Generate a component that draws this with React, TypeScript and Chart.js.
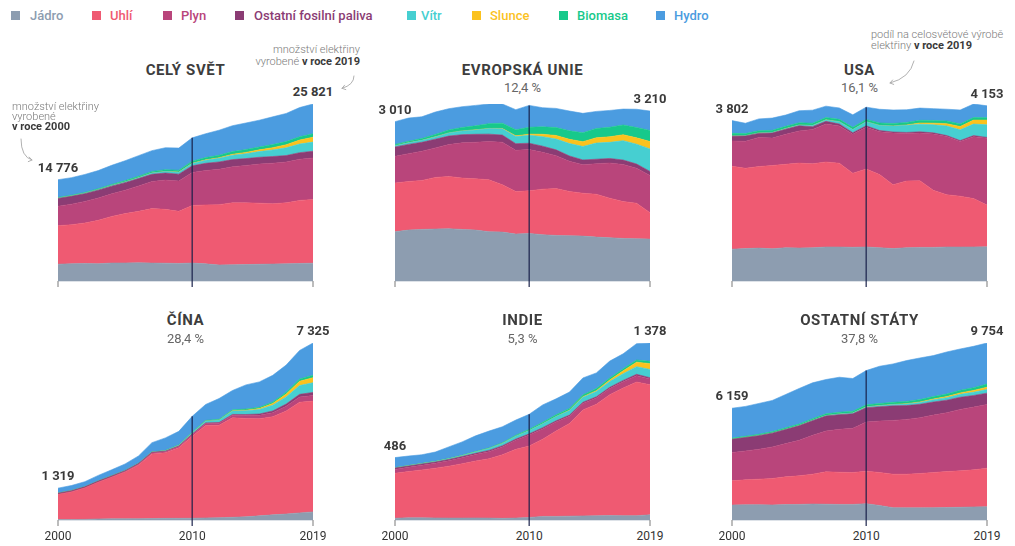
import React, { useEffect, useRef } from "react";
import { Chart, registerables } from "chart.js";

Chart.register(...registerables);

// ---------- data (TWh) ----------
const YEARS = ["2000","2001","2002","2003","2004","2005","2006","2007","2008","2009","2010","2011","2012","2013","2014","2015","2016","2017","2018","2019"];
const SOURCES = ["Jádro", "Uhlí", "Plyn", "Ostatní fosilní paliva", "Vítr", "Slunce", "Biomasa", "Hydro"];
const COLORS = ["#8d9db0", "#ef5a72", "#b9457b", "#8b3c74", "#46cfd1", "#fbc21e", "#17c98b", "#4b9ce0"];

const WORLD_JADRO = [2450,2520,2560,2520,2620,2630,2660,2610,2600,2560,2620,2500,2340,2360,2400,2440,2470,2500,2560,2600];
const WORLD_UHLI = [5620,5690,5900,6330,6800,7200,7500,7950,7850,7600,8400,8600,8800,9050,9000,8920,8800,8900,9200,9300];
const WORLD_PLYN = [2850,3000,3150,3250,3300,3420,3700,3950,4280,4430,4800,5020,5150,5260,5460,5700,5920,5950,6000,6050];
const WORLD_OSTATNI = [1130,1140,1130,1150,1120,1100,1080,1060,1020,1000,980,1050,1080,1040,1000,990,970,950,960,980];
const WORLD_VITR = [30,40,50,60,80,100,130,170,220,275,340,440,520,640,710,830,960,1130,1260,1330];
const WORLD_SLUNCE = [1,2,2,3,4,4,6,8,12,20,32,63,97,135,190,250,330,440,580,720];
const WORLD_BIOMASA = [110,120,130,150,170,190,210,240,260,280,310,330,360,390,410,430,450,470,490,500];
const WORLD_HYDRO = [2585,2560,2620,2650,2780,2900,3000,3030,3200,3230,3400,3480,3650,3780,3880,3900,4050,4100,4250,4341];

const EU_JADRO = [931,962,975,981,988,975,962,931,924,886,899,874,861,855,848,829,817,804,798,791];
const EU_UHLI = [918,918,924,975,988,969,969,981,893,804,804,861,886,836,810,810,747,696,671,500];
const EU_PLYN = [506,525,551,557,601,665,690,722,804,779,779,696,620,570,538,576,665,700,660,703];
const EU_OSTATNI = [177,175,170,165,160,155,150,140,135,125,120,115,110,100,90,85,85,85,80,76];
const EU_VITR = [22,30,36,44,58,70,82,104,118,133,150,180,205,235,255,305,305,365,375,424];
const EU_SLUNCE = [0,0,0,1,1,1,2,4,7,14,22,45,67,80,90,100,105,112,120,140];
const EU_BIOMASA = [25,30,35,45,55,65,75,90,100,115,130,140,150,160,170,175,180,185,195,209];
const EU_HYDRO = [431,437,411,423,403,392,387,371,362,380,413,362,361,374,365,323,318,300,345,367];

const USA_JADRO = [754,769,780,764,789,782,787,806,806,799,807,790,769,789,797,797,806,805,807,809];
const USA_UHLI = [1966,1904,1933,1974,1978,2013,1991,2016,1986,1756,1847,1733,1514,1581,1582,1352,1239,1206,1146,990];
const USA_PLYN = [601,639,691,650,710,761,816,897,883,921,988,1014,1226,1125,1127,1335,1379,1297,1469,1586];
const USA_OSTATNI = [111,125,95,119,121,122,64,66,46,39,37,30,23,27,30,28,24,21,25,19];
const USA_VITR = [6,7,10,11,14,18,27,34,55,74,95,120,141,168,182,191,227,254,273,300];
const USA_SLUNCE = [1,1,1,1,1,1,1,1,1,1,1,2,4,9,28,39,55,78,94,110];
const USA_BIOMASA = [61,50,53,53,53,54,54,55,55,54,56,57,57,60,63,64,63,63,62,58];
const USA_HYDRO = [302,245,280,290,268,285,310,270,270,295,290,325,320,300,290,280,280,330,320,281];

const CINA_JADRO = [17,17,25,43,50,53,55,62,68,70,74,86,97,112,133,171,213,248,294,335];
const CINA_UHLI = [1040,1144,1300,1519,1720,1930,2220,2674,2710,2915,3395,3825,3820,4117,4068,4020,4060,4260,4580,4585];
const CINA_PLYN = [6,7,8,9,10,20,30,40,47,55,70,85,90,105,120,140,170,200,215,230];
const CINA_OSTATNI = [47,45,40,42,45,40,35,30,25,20,20,20,25,35,45,55,70,90,110,130];
const CINA_VITR = [1,1,1,1,1,2,4,6,13,27,45,70,96,141,156,186,241,295,366,400];
const CINA_SLUNCE = [0,0,0,0,0,0,0,0,0,0,1,3,4,8,24,40,67,118,178,210];
const CINA_BIOMASA = [2,2,2,2,2,5,7,9,15,21,25,32,35,42,46,53,65,80,94,100];
const CINA_HYDRO = [206,210,210,230,250,270,300,380,520,560,660,660,860,800,1000,1050,1100,1120,1180,1335];

const INDIE_JADRO = [14,17,17,16,15,15,16,15,13,15,20,28,28,30,32,33,35,34,34,40];
const INDIE_UHLI = [350,360,373,387,404,423,443,462,495,535,556,601,664,722,825,868,940,993,1040,1013];
const INDIE_PLYN = [30,33,36,38,42,46,50,55,60,70,85,80,70,55,50,48,48,50,50,45];
const INDIE_OSTATNI = [10,10,10,10,10,10,10,10,10,10,10,10,10,10,10,10,10,10,10,10];
const INDIE_VITR = [2,3,3,4,5,7,10,14,18,22,25,30,33,35,38,41,45,52,60,64];
const INDIE_SLUNCE = [0,0,0,0,0,0,0,0,0,0,0,0,1,3,5,7,12,22,35,45];
const INDIE_BIOMASA = [1,1,2,2,3,3,4,5,6,8,10,12,13,14,15,16,16,16,17,18];
const INDIE_HYDRO = [79,74,67,72,90,104,122,131,124,118,117,135,124,127,131,122,131,117,127,143];

const OSTATNI_JADRO = [824,840,845,830,850,860,880,870,860,860,900,800,680,670,670,680,690,700,720,732];
const OSTATNI_UHLI = [1335,1374,1406,1458,1529,1574,1645,1784,1775,1757,1790,1817,1845,1855,1892,1937,1982,2008,2043,2123];
const OSTATNI_PLYN = [1556,1592,1647,1739,1830,1958,2141,2251,2361,2434,2708,2837,2965,3020,3074,3166,3239,3386,3459,3514];
const OSTATNI_OSTATNI = [732,740,750,760,780,800,810,824,810,800,787,790,800,760,740,720,690,670,640,622];
const OSTATNI_VITR = [5,6,8,10,12,15,20,25,33,40,48,58,70,85,100,120,140,160,180,200];
const OSTATNI_SLUNCE = [0,0,0,0,0,0,0,0,1,1,2,5,10,20,30,45,60,80,100,128];
const OSTATNI_BIOMASA = [60,65,70,75,80,85,90,95,100,105,110,115,120,125,130,135,140,145,150,170];
const OSTATNI_HYDRO = [1647,1642,1697,1716,1836,1955,1972,1892,1929,1799,1890,2051,2111,2249,2294,2256,2319,2276,2279,2265];

const REGION_NAMES = ["CELÝ SVĚT", "EVROPSKÁ UNIE", "USA", "ČÍNA", "INDIE", "OSTATNÍ STÁTY"];
const SHARE_LABELS = ["", "12,4 %", "16,1 %", "28,4 %", "5,3 %", "37,8 %"];
const START_LABELS = ["14 776", "3 010", "3 802", "1 319", "486", "6 159"];
const END_LABELS = ["25 821", "3 210", "4 153", "7 325", "1 378", "9 754"];
const AXIS_YEARS = ["2000", "2010", "2019"];

const PANEL_SERIES = [
  [WORLD_JADRO, WORLD_UHLI, WORLD_PLYN, WORLD_OSTATNI, WORLD_VITR, WORLD_SLUNCE, WORLD_BIOMASA, WORLD_HYDRO],
  [EU_JADRO, EU_UHLI, EU_PLYN, EU_OSTATNI, EU_VITR, EU_SLUNCE, EU_BIOMASA, EU_HYDRO],
  [USA_JADRO, USA_UHLI, USA_PLYN, USA_OSTATNI, USA_VITR, USA_SLUNCE, USA_BIOMASA, USA_HYDRO],
  [CINA_JADRO, CINA_UHLI, CINA_PLYN, CINA_OSTATNI, CINA_VITR, CINA_SLUNCE, CINA_BIOMASA, CINA_HYDRO],
  [INDIE_JADRO, INDIE_UHLI, INDIE_PLYN, INDIE_OSTATNI, INDIE_VITR, INDIE_SLUNCE, INDIE_BIOMASA, INDIE_HYDRO],
  [OSTATNI_JADRO, OSTATNI_UHLI, OSTATNI_PLYN, OSTATNI_OSTATNI, OSTATNI_VITR, OSTATNI_SLUNCE, OSTATNI_BIOMASA, OSTATNI_HYDRO],
];

// ---------- layout ----------
const COL_LEFT = [58, 395, 732];
const ROW_TOP = [104, 343];
const PLOT_W = 255;
const PLOT_H = 177;
const PAD_X = 2;
const PAD_BOTTOM = 9;
const FONT = "Roboto, 'Noto Sans', sans-serif";

const LEGEND_SQ_X = [11, 92, 163, 235, 407, 472, 559, 656];
const LEGEND_TXT_X = [30, 110, 181, 254, 421, 490, 577, 674];

const totalsOf = (series: number[][]) =>
  YEARS.map((_, i) => series.reduce((s, arr) => s + arr[i], 0));

const axisMarks = {
  id: "axisMarks",
  afterDatasetsDraw(chart: any) {
    const { ctx, scales } = chart;
    const x = scales.x;
    const y = scales.y;
    const y0 = y.getPixelForValue(0);
    const n = YEARS.length;
    const totals = YEARS.map((_, i) =>
      chart.data.datasets.reduce((s: number, d: any) => s + d.data[i], 0)
    );
    ctx.save();
    // baseline
    ctx.strokeStyle = "#dde2e8";
    ctx.lineWidth = 1;
    ctx.beginPath();
    ctx.moveTo(x.getPixelForValue(0), y0 + 0.5);
    ctx.lineTo(x.getPixelForValue(n - 1), y0 + 0.5);
    ctx.stroke();
    // end ticks
    ctx.strokeStyle = "#8f8f8f";
    ctx.lineWidth = 1.2;
    [0, n - 1].forEach((i) => {
      const px = x.getPixelForValue(i);
      ctx.beginPath();
      ctx.moveTo(px, y0);
      ctx.lineTo(px, y0 + 6);
      ctx.stroke();
    });
    // 2010 marker line
    const i10 = YEARS.indexOf("2010");
    const p10 = x.getPixelForValue(i10);
    ctx.strokeStyle = "rgba(22,30,72,0.78)";
    ctx.lineWidth = 1.5;
    ctx.beginPath();
    ctx.moveTo(p10, y.getPixelForValue(totals[i10]));
    ctx.lineTo(p10, y0 + 6);
    ctx.stroke();
    ctx.restore();
  },
};

function Panel({ series, left, top, max }: { series: number[][]; left: number; top: number; max: number }) {
  const ref = useRef<HTMLCanvasElement>(null);
  useEffect(() => {
    if (!ref.current) return;
    const chart = new Chart(ref.current, {
      type: "line",
      data: {
        labels: YEARS,
        datasets: series.map((vals, i) => ({
          label: SOURCES[i],
          data: vals,
          backgroundColor: COLORS[i],
          borderColor: COLORS[i],
          borderWidth: 0.6,
          pointRadius: 0,
          tension: 0,
          fill: i === 0 ? "origin" : "-1",
        })),
      },
      options: {
        responsive: false,
        animation: false,
        devicePixelRatio: 1,
        events: [],
        layout: { padding: { left: PAD_X, right: PAD_X, top: 0, bottom: PAD_BOTTOM } },
        plugins: { legend: { display: false }, tooltip: { enabled: false } },
        scales: {
          x: { display: false, offset: false },
          y: { display: false, stacked: true, min: 0, max },
        },
      },
      plugins: [axisMarks],
    } as any);
    return () => chart.destroy();
  }, []);
  return (
    <canvas
      ref={ref}
      width={PLOT_W + 2 * PAD_X}
      height={PLOT_H + PAD_BOTTOM}
      style={{ position: "absolute", left: left - PAD_X, top }}
    />
  );
}

function T({ x, y, children, style, align = "center" }: any) {
  const tr =
    align === "center" ? "translate(-50%,-50%)" : align === "right" ? "translate(-100%,-50%)" : "translate(0,-50%)";
  return (
    <div
      style={{
        position: "absolute",
        left: x,
        top: y,
        transform: tr,
        whiteSpace: "nowrap",
        lineHeight: 1,
        ...style,
      }}
    >
      {children}
    </div>
  );
}

export default function App() {
  const panels = PANEL_SERIES.map((series, k) => {
    const totals = totalsOf(series);
    const max = Math.max(...totals);
    const col = k % 3;
    const row = Math.floor(k / 3);
    return { series, totals, max, left: COL_LEFT[col], top: ROW_TOP[row], row, k };
  });

  const valueStyle = { fontSize: 13, fontWeight: 700, color: "#3a3a3a" };
  const titleStyle = { fontSize: 15, fontWeight: 700, color: "#3d3d3d", letterSpacing: "0.6px" };
  const shareStyle = { fontSize: 13, fontWeight: 400, color: "#666" };
  const noteStyle = { fontSize: 11, fontWeight: 300, color: "#7a7a7a" };
  const noteBold = { fontWeight: 700, color: "#3a3a3a" };

  return (
    <div
      style={{
        position: "fixed",
        left: 0,
        top: 0,
        width: 1015,
        height: 546,
        background: "#ffffff",
        fontFamily: FONT,
        overflow: "hidden",
      }}
    >
      {/* legend */}
      {SOURCES.map((s, i) => (
        <React.Fragment key={s}>
          <div
            style={{
              position: "absolute",
              left: LEGEND_SQ_X[i],
              top: 10.5,
              width: 9,
              height: 9,
              background: COLORS[i],
            }}
          />
          <T x={LEGEND_TXT_X[i]} y={15} align="left" style={{ fontSize: 13, fontWeight: 500, color: COLORS[i] }}>
            {s}
          </T>
        </React.Fragment>
      ))}

      {panels.map((p) => (
        <Panel key={p.k} series={p.series} left={p.left} top={p.top} max={p.max} />
      ))}

      {panels.map((p) => {
        const n = YEARS.length;
        const yOf = (v: number) => p.top + (1 - v / p.max) * PLOT_H;
        const cx = p.left + PLOT_W / 2;
        const titleY = p.row === 0 ? 69.5 : 319.5;
        const shareY = p.row === 0 ? 87 : 337.5;
        return (
          <React.Fragment key={"t" + p.k}>
            <T x={cx} y={titleY} style={titleStyle}>{REGION_NAMES[p.k]}</T>
            {SHARE_LABELS[p.k] && <T x={cx} y={shareY} style={shareStyle}>{SHARE_LABELS[p.k]}</T>}
            <T x={p.left} y={yOf(p.totals[0]) - 13} style={valueStyle}>{START_LABELS[p.k]}</T>
            <T x={p.left + PLOT_W} y={yOf(p.totals[n - 1]) - 13} style={valueStyle}>{END_LABELS[p.k]}</T>
            {p.row === 1 &&
              AXIS_YEARS.map((yr) => (
                <T
                  key={yr}
                  x={p.left + (PLOT_W * YEARS.indexOf(yr)) / (n - 1)}
                  y={535.5}
                  style={{ fontSize: 12, color: "#333" }}
                >
                  {yr}
                </T>
              ))}
          </React.Fragment>
        );
      })}

      {/* annotations */}
      <T x={12} y={105.5} align="left" style={noteStyle}>množství elektřiny</T>
      <T x={12} y={115.5} align="left" style={noteStyle}>vyrobené</T>
      <T x={12} y={125.5} align="left" style={{ ...noteStyle, ...noteBold }}>v roce 2000</T>

      <T x={360} y={49} align="right" style={noteStyle}>množství elektřiny</T>
      <T x={360} y={61} align="right" style={noteStyle}>
        vyrobené <span style={noteBold}>v roce 2019</span>
      </T>

      <T x={871} y={33.5} align="left" style={noteStyle}>podíl na celosvětové výrobě</T>
      <T x={871} y={44.5} align="left" style={noteStyle}>
        elektřiny <span style={noteBold}>v roce 2019</span>
      </T>

      <svg
        width={1015}
        height={546}
        style={{ position: "absolute", left: 0, top: 0, pointerEvents: "none" }}
      >
        <g fill="none" stroke="#a8a8a8" strokeWidth={0.9} strokeLinecap="round">
          <path d="M21,139 Q21,157 32,160" />
          <path d="M29.2,157.1 L32,160 L28.3,161.6" />
          <path d="M354,76 Q354,85 342,88.3" />
          <path d="M345.8,89.6 L342,88.3 L344.6,85.2" />
          <path d="M914,61 Q910,78 890,83" />
          <path d="M893.7,84.4 L890,83 L892.6,80" />
        </g>
      </svg>
    </div>
  );
}
